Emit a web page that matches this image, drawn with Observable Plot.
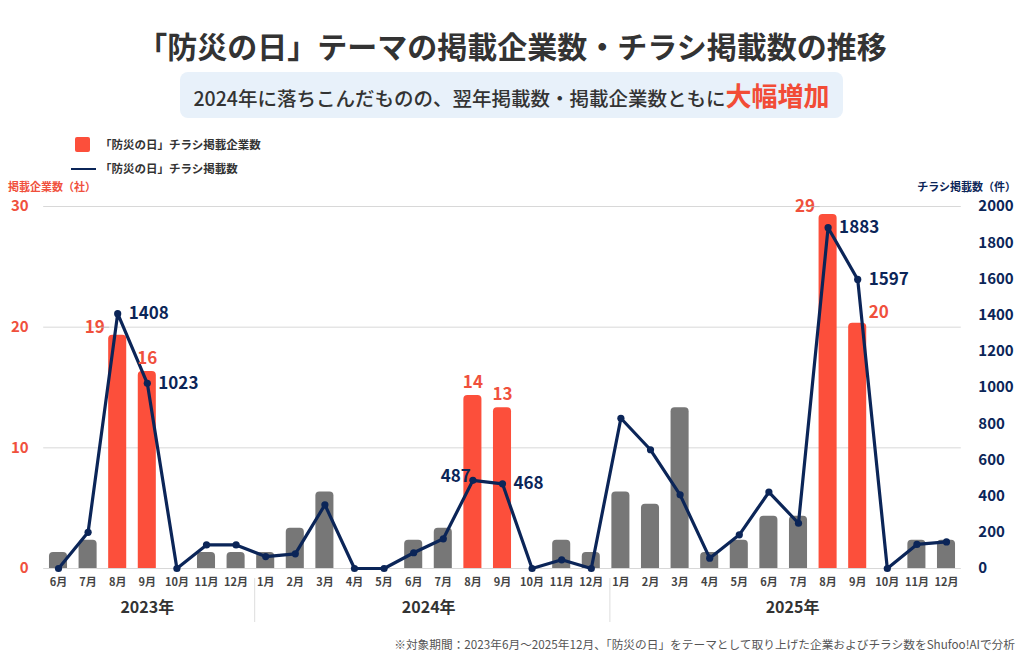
<!DOCTYPE html>
<html><head><meta charset="utf-8">
<script src="https://cdn.jsdelivr.net/npm/d3@7"></script>
<script src="https://cdn.jsdelivr.net/npm/@observablehq/plot@0.6"></script>
<style>
body{margin:0;background:#fff;font-family:"Noto Sans CJK JP","Noto Sans",sans-serif;}
#wrap{position:relative;width:1024px;height:659px;overflow:hidden;}
.abs{position:absolute;white-space:nowrap;}
#title{left:0;width:1024px;top:25px;text-align:center;font-size:30px;font-weight:700;color:#333;line-height:40px;}
#sub{left:180px;top:72px;width:663px;height:46px;background:#e8f1fa;border-radius:8px;text-align:center;line-height:46px;font-size:19.5px;font-weight:500;color:#333;}
#sub b{color:#f24c36;font-size:26px;font-weight:700;}
.leg{font-size:11.5px;font-weight:700;color:#333;}
#chart{left:0;top:150px;}
</style></head><body>
<div id="wrap">
<div id="title" class="abs">「防災の日」テーマの掲載企業数・チラシ掲載数の推移</div>
<div id="sub" class="abs">2024年に落ちこんだものの、翌年掲載数・掲載企業数ともに<b>大幅増加</b></div>
<div class="abs" style="left:75px;top:137px;width:15px;height:15px;background:#fc4f3b;border-radius:2px;"></div>
<div class="abs leg" style="left:100px;top:136px;line-height:17px;">「防災の日」チラシ掲載企業数</div>
<div class="abs" style="left:71px;top:168px;width:25px;height:2px;background:#0b2558;"></div>
<div class="abs leg" style="left:100px;top:160px;line-height:17px;">「防災の日」チラシ掲載数</div>
<div class="abs" style="left:8px;top:180px;font-size:11px;font-weight:700;color:#f0503c;line-height:13px;">掲載企業数（社）</div>
<div class="abs" style="right:8px;top:180px;font-size:11px;font-weight:700;color:#0b2558;line-height:13px;">チラシ掲載数（件）</div>
<div id="chart" class="abs"></div>
<div class="abs" style="right:9px;top:636px;font-size:11.7px;color:#555;line-height:16px;font-family:'Noto Sans CJK JP','Liberation Sans',sans-serif;">※対象期間：2023年6月～2025年12月、「防災の日」をテーマとして取り上げた企業およびチラシ数をShufoo!AIで分析</div>
</div>
<script>
// ---- data ----
const years = [2023,2023,2023,2023,2023,2023,2023,
  2024,2024,2024,2024,2024,2024,2024,2024,2024,2024,2024,2024,
  2025,2025,2025,2025,2025,2025,2025,2025,2025,2025,2025,2025];
const monthNums = [6,7,8,9,10,11,12, 1,2,3,4,5,6,7,8,9,10,11,12, 1,2,3,4,5,6,7,8,9,10,11,12];
const companies = [1,2,19,16,0,1,1, 1,3,6,0,0,2,3,14,13,0,2,1, 6,5,13,1,2,4,4,29,20,0,2,2];
const flyers = [0,200,1408,1023,0,130,130, 66,81,352,0,0,87,164,487,468,0,48,0, 830,656,407,57,186,422,250,1883,1597,0,133,147];
const highlightMonths = [8,9];
const yearLabels = ["2023年","2024年","2025年"];
const leftTicks = [0,10,20,30];
const rightTicks = [0,200,400,600,800,1000,1200,1400,1600,1800,2000];
const leftMax = 30, rightMax = 2000;

const keys = years.map((y,i)=>`${y}-${String(monthNums[i]).padStart(2,"0")}`);
const rows = keys.map((k,i)=>({key:k, year:years[i], month:monthNums[i], c:companies[i], f:flyers[i],
  fy:flyers[i]*leftMax/rightMax, hi:highlightMonths.includes(monthNums[i])}));
const byKey = k => rows.find(r=>r.key===k);
const RED="#fc4f3b", GRAY="#777777", NAVY="#0b2558";
const labelFont = {fontSize:17, fontWeight:700};

const sel = (y,m)=>rows.filter(r=>r.year===y && r.month===m);
const nonzero = rows.filter(d=>d.c>0);

const chart = Plot.plot({
  width:1024, height:480,
  marginLeft:43.2, marginRight:63.2, marginTop:56, marginBottom:62,
  style:{fontFamily:'"Noto Sans CJK JP","Noto Sans",sans-serif', background:"transparent"},
  x:{type:"band", domain:keys, paddingInner:0.39, paddingOuter:0.195, round:false, axis:null, label:null},
  y:{domain:[0,leftMax], axis:null, label:null},
  marks:[
    Plot.gridY(leftTicks,{stroke:"#d8d8d8", strokeOpacity:1}),
    Plot.barY(nonzero,{x:"key", y:"c", fill:d=>d.hi?RED:GRAY, rx:4, insetTop:-4, insetBottom:-8, clip:true}),
    Plot.line(rows,{x:"key", y:"fy", stroke:NAVY, strokeWidth:3.2, strokeLinejoin:"round"}),
    Plot.dot(rows,{x:"key", y:"fy", r:3.6, fill:NAVY}),
    // left axis
    Plot.axisY(leftTicks,{anchor:"left", tickSize:0, tickPadding:15, fontSize:15, fontWeight:700, fill:"#f0503c", label:null}),
    // right axis (secondary scale)
    Plot.axisY(rightTicks.map(v=>v*leftMax/rightMax),{anchor:"right", tickSize:0, tickPadding:17, textAnchor:"start", label:null,
      tickFormat:d=>String(Math.round(d*rightMax/leftMax)), fontSize:15, fontWeight:700, fill:NAVY}),
    // month ticks
    Plot.axisX({tickSize:0, tickPadding:10, label:null, tickFormat:k=>byKey(k).month+"月", fontSize:11, fontWeight:700, fill:"#444"}),
    // year separators
    Plot.ruleX(rows.filter(r=>r.month===1),{x:"key", dx:-11, dy:54, insetTop:318, stroke:"#dddddd", strokeWidth:1}),
    // year labels
    Plot.text(sel(2023,9),{x:"key", text:()=>yearLabels[0], frameAnchor:"bottom", dy:44, fontSize:16, fontWeight:700, fill:"#333"}),
    Plot.text(sel(2024,6),{x:"key", text:()=>yearLabels[1], frameAnchor:"bottom", dy:44, dx:15, fontSize:16, fontWeight:700, fill:"#333"}),
    Plot.text(sel(2025,7),{x:"key", text:()=>yearLabels[2], frameAnchor:"bottom", dy:44, dx:-6, fontSize:16, fontWeight:700, fill:"#333"}),
    // company value labels
    Plot.text(sel(2023,8).concat(sel(2025,8)),{x:"key", y:"c", text:d=>String(d.c), textAnchor:"end", dx:-13, dy:-12, fill:"#f0503c", ...labelFont}),
    Plot.tickY(sel(2023,8).concat(sel(2025,8)),{x:"key", y:"c", dx:-13, dy:-12, inset:4, stroke:"#bbb", strokeWidth:0.8}),
    Plot.text(sel(2023,9).concat(sel(2024,8), sel(2024,9)),{x:"key", y:"c", text:d=>String(d.c), dy:-17, fill:"#f0503c", ...labelFont}),
    Plot.text(sel(2025,9),{x:"key", y:"c", text:d=>String(d.c), textAnchor:"start", dx:11, dy:-15, fill:"#f0503c", ...labelFont}),
    // flyer value labels
    Plot.text(rows.filter(r=>r.hi && !(r.year===2024 && r.month===8)),{x:"key", y:"fy", text:d=>String(d.f), textAnchor:"start", dx:11, fill:NAVY, ...labelFont}),
    Plot.text(sel(2024,8),{x:"key", y:"fy", text:d=>String(d.f), textAnchor:"end", dx:-2, dy:-4, fill:NAVY, ...labelFont})
  ]
});
document.getElementById("chart").appendChild(chart);
</script>
</body></html>
